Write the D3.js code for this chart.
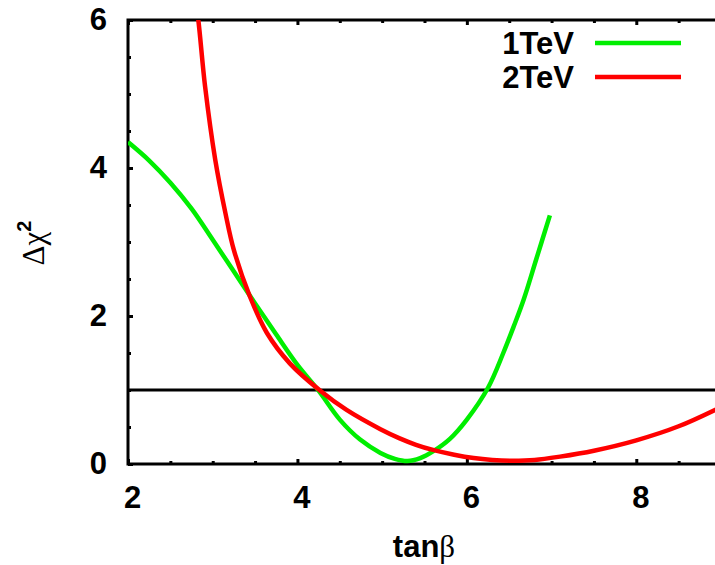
<!DOCTYPE html>
<html>
<head>
<meta charset="utf-8">
<script src="https://cdn.jsdelivr.net/npm/d3@7"></script>
<style>
  body { margin: 0; background: #fff; }
</style>
</head>
<body>
<svg id="chart" width="715" height="565"></svg>
<script>
// 1TeV curve
const tanBeta1 = [2.0, 2.25, 2.5, 2.75, 3.0, 3.25, 3.5, 3.75, 4.0, 4.25, 4.5, 4.74, 4.98, 5.15, 5.3, 5.45, 5.6, 5.8, 6.0, 6.25, 6.43, 6.55, 6.67, 6.82, 6.98];
const chi1     = [4.35, 4.1, 3.8, 3.45, 3.03, 2.6, 2.17, 1.75, 1.34, 0.99, 0.6, 0.33, 0.15, 0.07, 0.04, 0.08, 0.17, 0.34, 0.6, 1.03, 1.5, 1.85, 2.22, 2.77, 3.36];

// 2TeV curve
const tanBeta2 = [2.78, 2.83, 2.91, 3.03, 3.15, 3.25, 3.44, 3.64, 3.91, 4.27, 4.58, 4.98, 5.2, 5.4, 5.6, 5.85, 6.08, 6.3, 6.52, 6.8, 7.1, 7.5, 8.0, 8.5, 9.0];
const chi2     = [6.4, 6.0, 5.1, 4.11, 3.39, 2.89, 2.26, 1.77, 1.36, 0.99, 0.73, 0.47, 0.35, 0.26, 0.19, 0.125, 0.08, 0.055, 0.045, 0.055, 0.1, 0.18, 0.32, 0.51, 0.77];

const seriesNames = ["1TeV", "2TeV"];
const seriesColors = ["#00ee00", "#ff0000"];

const xTicks = [2, 4, 6, 8];
const yTicks = [0, 2, 4, 6];
const refLevel = [1];

const svg = d3.select("#chart");

// Scales
const x = d3.scaleLinear().domain([2, 9]).range([128, 721]);
const y = d3.scaleLinear().domain([0, 6]).range([464, 20]);

const xMinor = d3.range(2, 9.01, 0.5).filter(v => !xTicks.includes(v));
const yMinor = d3.range(0, 6.01, 0.5).filter(v => !yTicks.includes(v));

// Clip to plot area
svg.append("clipPath").attr("id", "plot")
  .append("rect")
  .attr("x", x(2)).attr("y", y(6))
  .attr("width", x(9) - x(2)).attr("height", y(0) - y(6));

const tickFont = g => g.selectAll("text")
  .attr("font-family", "'Liberation Sans', Arial, sans-serif")
  .attr("font-weight", "bold")
  .attr("font-size", 31)
  .attr("fill", "#000");

// Bottom axis
svg.append("g")
  .attr("transform", "translate(0," + y(0) + ")")
  .call(d3.axisBottom(x).tickValues(xTicks).tickSize(-5).tickPadding(22).tickFormat(d3.format("d")))
  .call(g => g.select(".domain").remove())
  .call(g => g.selectAll("line").attr("stroke-width", 3))
  .call(g => g.selectAll("text").attr("dx", 4))
  .call(tickFont);

svg.append("g")
  .attr("transform", "translate(0," + y(0) + ")")
  .call(d3.axisBottom(x).tickValues(xMinor).tickSize(-3).tickFormat(""))
  .call(g => g.select(".domain").remove())
  .call(g => g.selectAll("line").attr("stroke-width", 3));

// Top axis (mirror ticks)
svg.append("g")
  .attr("transform", "translate(0," + y(6) + ")")
  .call(d3.axisTop(x).tickValues(xTicks).tickSize(-5).tickFormat(""))
  .call(g => g.select(".domain").remove())
  .call(g => g.selectAll("line").attr("stroke-width", 3));

svg.append("g")
  .attr("transform", "translate(0," + y(6) + ")")
  .call(d3.axisTop(x).tickValues(xMinor).tickSize(-3).tickFormat(""))
  .call(g => g.select(".domain").remove())
  .call(g => g.selectAll("line").attr("stroke-width", 3));

// Left axis
svg.append("g")
  .attr("transform", "translate(" + x(2) + ",0)")
  .call(d3.axisLeft(y).tickValues(yTicks).tickSize(-5).tickPadding(21).tickFormat(d3.format("d")))
  .call(g => g.select(".domain").remove())
  .call(g => g.selectAll("line").attr("stroke-width", 3))
  .call(tickFont);

svg.append("g")
  .attr("transform", "translate(" + x(2) + ",0)")
  .call(d3.axisLeft(y).tickValues(yMinor).tickSize(-3).tickFormat(""))
  .call(g => g.select(".domain").remove())
  .call(g => g.selectAll("line").attr("stroke-width", 3));

// Frame
svg.append("rect")
  .attr("x", x(2)).attr("y", y(6))
  .attr("width", x(9) - x(2)).attr("height", y(0) - y(6))
  .attr("fill", "none")
  .attr("stroke", "#000")
  .attr("stroke-width", 3);

// Reference line at 1
svg.append("g").selectAll("line")
  .data(refLevel).enter()
  .append("line")
  .attr("x1", x(2)).attr("x2", x(9))
  .attr("y1", d => y(d)).attr("y2", d => y(d))
  .attr("stroke", "#000")
  .attr("stroke-width", 3);

// Curves
const line = d3.line()
  .x(d => x(d[0]))
  .y(d => y(d[1]))
  .curve(d3.curveCatmullRom.alpha(0.5));

const series = [
  d3.zip(tanBeta1, chi1),
  d3.zip(tanBeta2, chi2)
];

svg.append("g")
  .attr("clip-path", "url(#plot)")
  .selectAll("path")
  .data(series).enter()
  .append("path")
  .attr("d", line)
  .attr("fill", "none")
  .attr("stroke", (d, i) => seriesColors[i])
  .attr("stroke-width", 4.5)
  .attr("stroke-linejoin", "round");

// Legend
const legend = svg.append("g")
  .selectAll("g")
  .data(seriesNames).enter()
  .append("g")
  .attr("transform", (d, i) => "translate(0," + (43 + i * 34) + ")");

legend.append("text")
  .attr("x", 574)
  .attr("dy", "0.36em")
  .attr("text-anchor", "end")
  .attr("font-family", "'Liberation Sans', Arial, sans-serif")
  .attr("font-weight", "bold")
  .attr("font-size", 31)
  .text(d => d);

legend.append("line")
  .attr("x1", 595).attr("x2", 681)
  .attr("stroke", (d, i) => seriesColors[i])
  .attr("stroke-width", 4.5);

// Axis titles
const xTitle = svg.append("text")
  .attr("x", 424)
  .attr("y", 557)
  .attr("text-anchor", "middle")
  .attr("font-size", 31);
xTitle.append("tspan")
  .attr("font-family", "'Liberation Sans', Arial, sans-serif")
  .attr("font-weight", "bold")
  .text("tan");
xTitle.append("tspan")
  .attr("font-family", "'Liberation Serif', serif")
  .text("β");

const yTitle = svg.append("text")
  .attr("transform", "translate(44,243) rotate(-90)")
  .attr("text-anchor", "middle")
  .attr("font-size", 31);
yTitle.append("tspan")
  .attr("font-family", "'Liberation Serif', serif")
  .text("Δχ");
yTitle.append("tspan")
  .attr("font-family", "'Liberation Sans', Arial, sans-serif")
  .attr("font-weight", "bold")
  .attr("font-size", 20)
  .attr("dy", -13)
  .text("2");
</script>
</body>
</html>
